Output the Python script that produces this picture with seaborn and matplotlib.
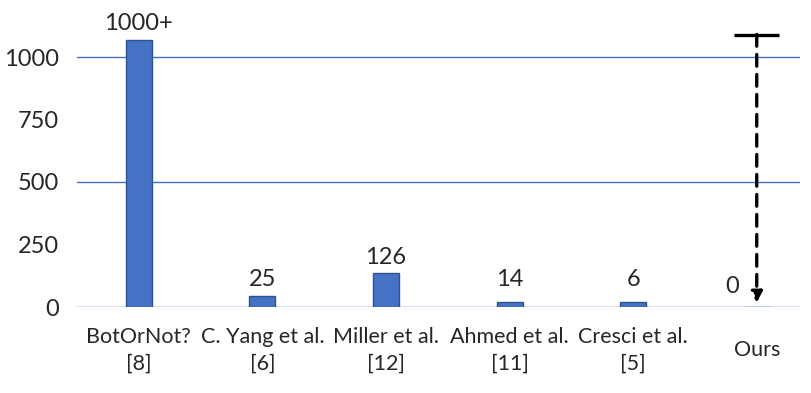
import matplotlib
matplotlib.use("Agg")
import matplotlib.pyplot as plt
import seaborn as sns
import pandas as pd

categories = ["BotOrNot?\n[8]", "C. Yang et al.\n[6]", "Miller et al.\n[12]",
              "Ahmed et al.\n[11]", "Cresci et al.\n[5]", "Ours"]
bar_heights = [1070, 45, 135, 20, 20, 0]
value_labels = ["1000+", "25", "126", "14", "6", "0"]
ours_arrow_top = 1090
yticks = [0, 250, 500, 750, 1000]
grid_values = [0, 500, 1000]

sns.set_theme(style="white")
plt.rcParams['font.family'] = ['Lato', 'DejaVu Sans']

df = pd.DataFrame({"method": categories, "height": bar_heights})

fig = plt.figure(figsize=(8.12, 3.93), dpi=100)
ax = fig.add_axes([77 / 812, (393 - 307) / 393, (800 - 77) / 812, (307 - 20) / 393])

sns.barplot(data=df, x="method", y="height", color="#4472C4", width=0.21,
            edgecolor="#2F528F", linewidth=1, saturation=1, ax=ax, zorder=3)

for g in grid_values:
    ax.axhline(g, color="#4472C4", linewidth=1, zorder=1)

ax.set_ylim(0, 1148)
ax.set_xlim(-0.5, 5.35)
ax.set_yticks(yticks)
ax.set_yticklabels([str(t) for t in yticks], fontsize=17)
ax.set_xlabel("")
ax.set_ylabel("")
for s in ax.spines.values():
    s.set_visible(False)
ax.tick_params(axis="y", length=0, pad=13)
ax.tick_params(axis="x", length=0, pad=31)
for lbl in ax.get_xticklabels():
    lbl.set_fontsize(15.5)
    lbl.set_verticalalignment("center")
    lbl.set_multialignment("center")
    lbl.set_linespacing(1.4)

# value labels (small bars get a minimum label baseline)
label_floor = 45
for i, (h, lab) in enumerate(zip(bar_heights, value_labels)):
    if lab == "0":
        ax.annotate(lab, xy=(i, h), xytext=(-18, 7), textcoords="offset points",
                    ha="center", va="bottom", fontsize=17)
    else:
        ax.annotate(lab, xy=(i, max(h, label_floor)), xytext=(0, 4), textcoords="offset points",
                    ha="center", va="bottom", fontsize=17)

# dashed arrow for "Ours"
idx = len(categories) - 1
ax.annotate("", xy=(idx, bar_heights[idx]), xytext=(idx, ours_arrow_top),
            arrowprops=dict(arrowstyle="-|>", linestyle=(0, (3.5, 2.5)), color="black",
                            lw=2.4, mutation_scale=16, shrinkA=0, shrinkB=3),
            zorder=5)
ax.hlines(ours_arrow_top, idx - 0.18, idx + 0.18, color="black", lw=2.4, zorder=5)

fig.savefig("out.png", dpi=100)
